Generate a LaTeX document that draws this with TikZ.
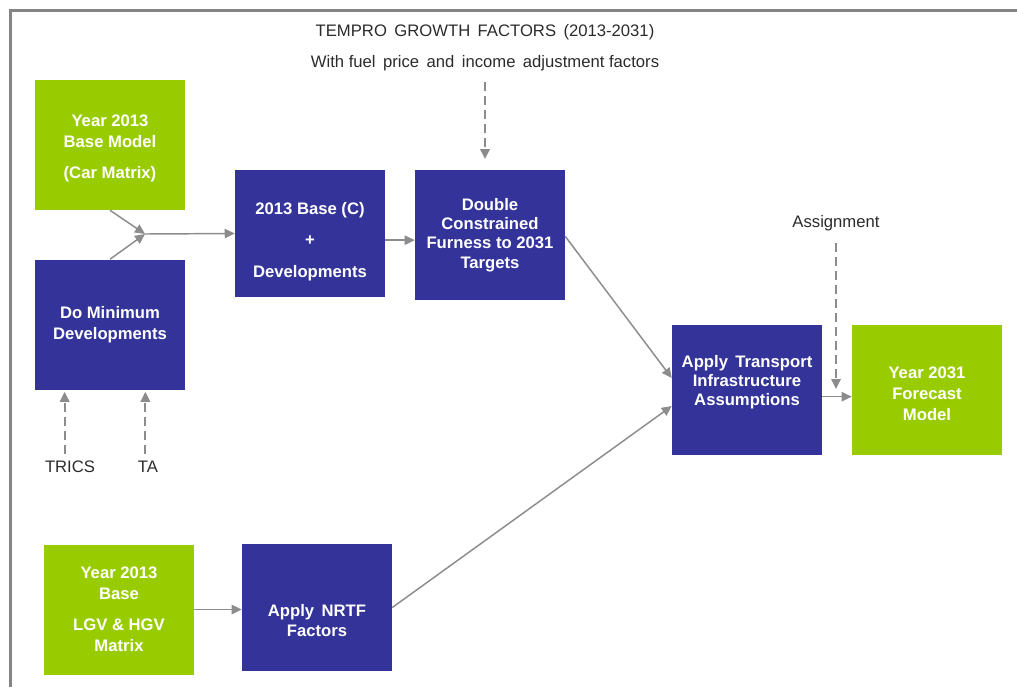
\documentclass[tikz,border=0pt]{standalone}
\usepackage{fontspec}
\setmainfont{Liberation Sans}
\usetikzlibrary{arrows.meta}

\definecolor{boxblue}{HTML}{333399}
\definecolor{boxgreen}{HTML}{99CC00}
\definecolor{linegray}{HTML}{8C8C8C}
\definecolor{framegray}{HTML}{858585}
\definecolor{labelgray}{HTML}{2B2B2B}

\begin{document}
\begin{tikzpicture}[x=0.75pt, y=-0.75pt,
        stepbox/.style={minimum width=112.5pt, minimum height=97.5pt, inner sep=2pt,
            align=center, text=white, font=\bfseries\fontsize{12.5}{15.5}\selectfont},
        bluebox/.style={stepbox, fill=boxblue},
        greenbox/.style={stepbox, fill=boxgreen},
        tight/.style={font=\bfseries\fontsize{12.5}{14.5}\selectfont},
        note/.style={text=labelgray, font=\fontsize{12.5}{15}\selectfont},
        flow/.style={draw=linegray, line width=1.1pt, -{Triangle[length=7.5pt,width=7pt]}},
        feed/.style={flow, line width=1.6pt, dash pattern=on 6.5pt off 4pt}]

    \useasboundingbox (0,0) rectangle (1017,687);
    \draw[framegray, line width=2.25pt] (10,687) -- (10,10) -- (1017,10);

    % boxes
    \node[greenbox] (base13) at (110,145) {\mbox{}\\[-1.3pt]Year 2013\\Base Model\\[8pt](Car Matrix)};
    \node[bluebox] (domin) at (110,324.5) {Do Minimum\\Developments};
    \node[bluebox, minimum height=95.25pt] (basedev) at (310,233.5) {\mbox{}\\[5.5pt]2013 Base (C)\\[8pt]+\\[8pt]Developments};
    \node[bluebox, tight] (furness) at (490,235) {Double\\Constrained\\Furness to 2031\\Targets};
    \node[bluebox, tight] (transport) at (747,390) {Apply \,Transport\\Infrastructure\\Assumptions\\\mbox{}};
    \node[greenbox] (forecast) at (927,390) {\mbox{}\\[-1.3pt]Year 2031\\Forecast\\Model};
    \node[greenbox] (hgv) at (119,609.5) {Year 2013\\Base\\[8pt]LGV \& HGV\\Matrix};
    \node[bluebox, minimum height=95.25pt] (nrtf) at (317,607.5) {\mbox{}\\[13pt]Apply \,NRTF\\Factors};

    % inputs
    \node[note] (tempro) at (485,32) {TEMPRO \,GROWTH \,FACTORS \,(2013-2031)};
    \node[note] (fuel) at (485,63) {With fuel \,price \,and \,income \,adjustment factors};
    \node[note] (assign) at (836,223) {Assignment};
    \foreach \name/\x/\y in {trics/70/TRICS, ta/148/TA}
        \node[note] (\name) at (\x,467) {\y};

    % connectors
    \coordinate (merge) at (145,234);
    \draw[flow] (base13.south) -- (merge);
    \draw[flow] (domin.north) -- (merge);
    \draw[flow] (merge) -- (basedev.west);
    \draw[flow] ([yshift=-5pt]basedev.east) -- ([yshift=-5pt]basedev.east -| furness.west);
    \draw[flow] ([yshift=-1pt]furness.east) -- ([yshift=9pt]transport.west);
    \draw[flow] (nrtf.east) -- ([yshift=-12pt]transport.west);
    \draw[flow] ([yshift=-5pt]transport.east) -- ([yshift=-5pt]transport.east -| forecast.west);
    \draw[flow] (hgv.east) -- (hgv.east -| nrtf.west);

    % dashed feeds
    \draw[feed] ([yshift=-5pt]fuel.south) -- ([yshift=8pt]fuel.south |- furness.north);
    \draw[feed] ([yshift=-6pt]assign.south) -- (836,389);
    \draw[feed] ([xshift=-4pt,yshift=2pt]trics.north) -- ([xshift=-4pt,yshift=-1.5pt]trics.north |- domin.south);
    \draw[feed] ([xshift=-2pt,yshift=2pt]ta.north) -- ([xshift=-2pt,yshift=-1.5pt]ta.north |- domin.south);

\end{tikzpicture}
\end{document}
